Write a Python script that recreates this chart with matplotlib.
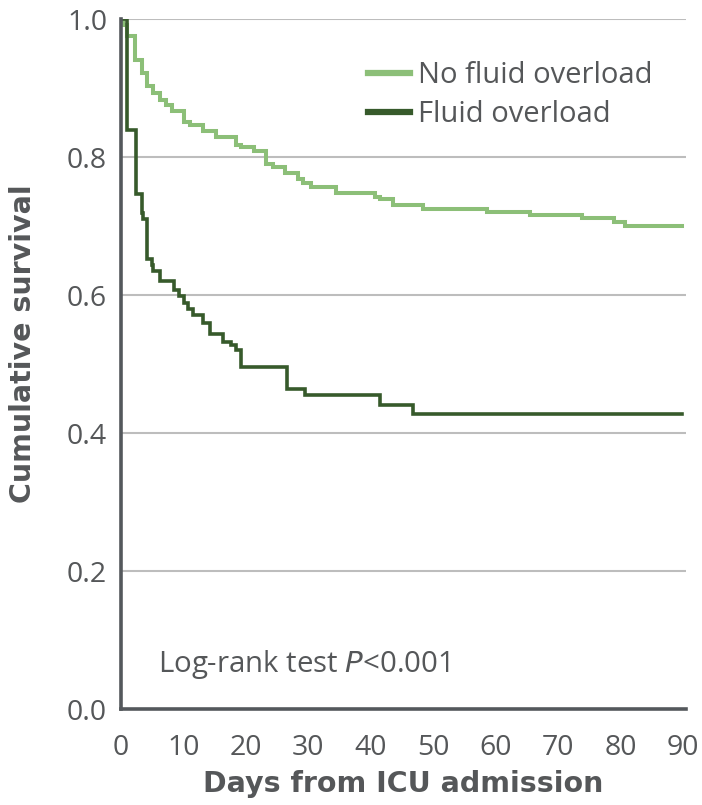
import matplotlib
matplotlib.use("Agg")
import matplotlib.pyplot as plt
from matplotlib.lines import Line2D

# ---- data ----
no_fo_days = [0, 0.3, 0.9, 2.2, 3.3, 4.1, 5.2, 6.2, 7.2, 8.1, 10.1, 11.1, 13.1, 15.2,
              18.4, 19.3, 21.3, 23.2, 24.4, 26.3, 28.4, 29.2, 30.4, 34.4, 40.7, 41.5,
              43.6, 48.4, 58.6, 65.5, 73.8, 78.9, 80.7, 89.8]
no_fo_surv = [1.0, 0.991, 0.975, 0.941, 0.922, 0.903, 0.893, 0.883, 0.875, 0.867, 0.851,
              0.847, 0.837, 0.829, 0.818, 0.814, 0.808, 0.790, 0.785, 0.777, 0.768, 0.762,
              0.757, 0.748, 0.742, 0.739, 0.730, 0.725, 0.720, 0.716, 0.711, 0.706, 0.700,
              0.700]

fo_days = [0, 0.9, 2.4, 3.3, 3.6, 4.2, 4.9, 5.2, 6.2, 8.5, 9.3, 10.1, 10.8, 11.5, 13.2,
           14.3, 16.4, 17.6, 18.4, 19.2, 26.6, 29.5, 41.5, 46.8, 89.8]
fo_surv = [1.0, 0.839, 0.747, 0.719, 0.710, 0.652, 0.643, 0.635, 0.621, 0.607, 0.598,
           0.588, 0.579, 0.571, 0.559, 0.543, 0.532, 0.528, 0.521, 0.496, 0.464, 0.455,
           0.441, 0.428, 0.428]

series_labels = ["No fluid overload", "Fluid overload"]
x_ticks = [0, 10, 20, 30, 40, 50, 60, 70, 80, 90]
y_ticks = [0.0, 0.2, 0.4, 0.6, 0.8, 1.0]

light_green = "#8CBF78"
dark_green = "#375A2B"
txt_col = "#555759"
spine_col = "#54585C"
grid_col = "#BDBDBD"

regular = ["Open Sans", "DejaVu Sans"]
bold = ["DejaVu Sans"]

fig = plt.figure(figsize=(7.02, 8.05), dpi=100)
ax = fig.add_axes([121 / 702, 1 - 709 / 805, (686 - 121) / 702, (709 - 19) / 805])

ax.set_xlim(0, 90.5)
ax.set_ylim(0, 1.0)

for y in y_ticks[1:]:
    ax.axhline(y, color=grid_col, lw=1.5, zorder=1)

ax.step(no_fo_days, no_fo_surv, where="post", color=light_green, lw=2.9, zorder=3,
        solid_joinstyle="miter")
ax.step(fo_days, fo_surv, where="post", color=dark_green, lw=2.6, zorder=4,
        solid_joinstyle="miter")

for s in ["top", "right"]:
    ax.spines[s].set_visible(False)
for s in ["left", "bottom"]:
    ax.spines[s].set_color(spine_col)
    ax.spines[s].set_linewidth(2.6)
    ax.spines[s].set_zorder(5)

ax.set_xticks(x_ticks)
ax.set_xticklabels([str(v) for v in x_ticks], family=regular, fontsize=20.5, color=txt_col)
ax.set_yticks(y_ticks)
ax.set_yticklabels([f"{v:.1f}" for v in y_ticks], family=regular, fontsize=20.5, color=txt_col)
ax.tick_params(axis="y", length=0, pad=10)
ax.tick_params(axis="x", length=0, pad=18)

ax.set_xlabel("Days from ICU admission", family=bold, fontsize=20.5, fontweight="bold",
              color=txt_col, labelpad=6)
ax.set_ylabel("Cumulative survival", family=bold, fontsize=20.5, fontweight="bold",
              color=txt_col)
ax.yaxis.set_label_coords(-0.148, 0.529)

handles = [Line2D([], [], color=light_green, lw=4.5),
           Line2D([], [], color=dark_green, lw=4.5)]
ax.legend(handles, series_labels, loc="upper left", bbox_to_anchor=(0.437, 0.939),
          frameon=False, prop={"family": regular, "size": 21}, labelcolor=txt_col,
          handlelength=1.45, handletextpad=0.28, labelspacing=0.34, borderpad=0,
          borderaxespad=0)

ax.text(0.0655, 0.0638, "Log-rank test $\\mathit{P}$<0.001", transform=ax.transAxes,
        family=regular, fontsize=21.2, color=txt_col, va="center", ha="left")

fig.savefig("out.png", dpi=100)
